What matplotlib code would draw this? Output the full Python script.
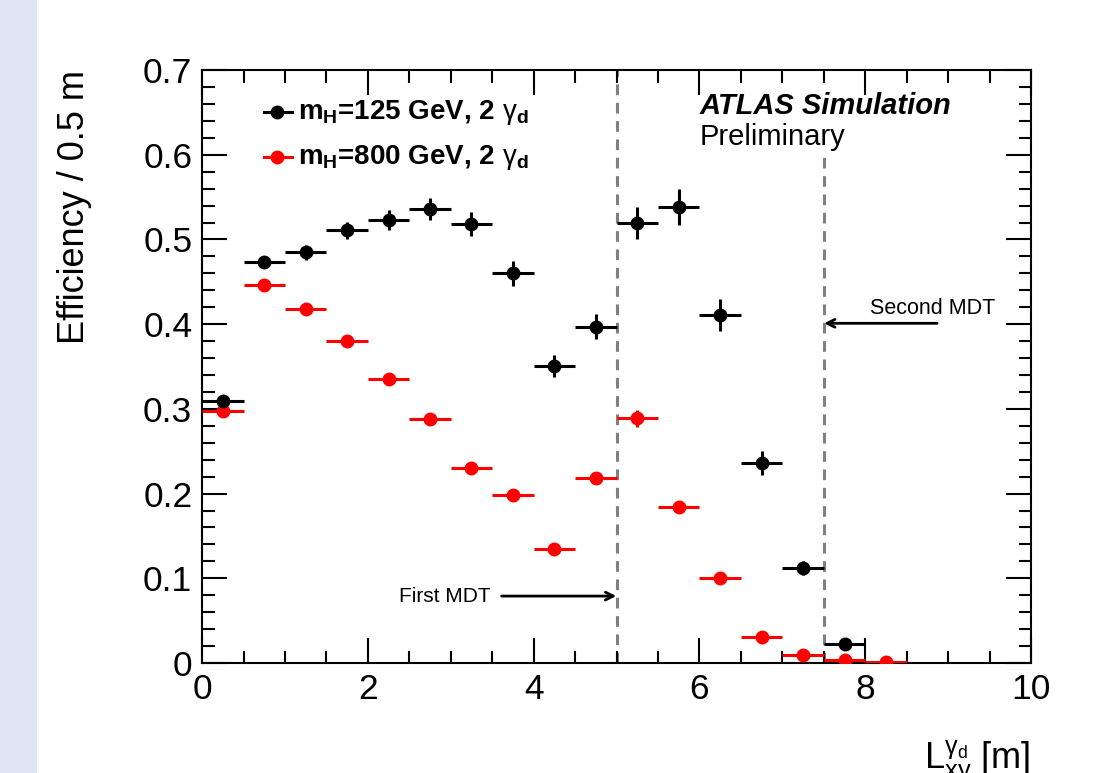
import numpy as np
import matplotlib.pyplot as plt
from matplotlib.patches import Rectangle
from matplotlib.ticker import MultipleLocator, FuncFormatter

plt.rcParams['font.family'] = ['Liberation Sans', 'DejaVu Sans']
plt.rcParams['mathtext.fontset'] = 'custom'
plt.rcParams['mathtext.rm'] = 'Liberation Sans'
plt.rcParams['mathtext.it'] = 'Liberation Sans:italic'
plt.rcParams['mathtext.bf'] = 'Liberation Sans:bold'

# eficiencia por bin de 0.5 m en L_xy
x_125 = [0.25, 0.75, 1.25, 1.75, 2.25, 2.75, 3.25, 3.75, 4.25, 4.75, 5.25, 5.75, 6.25, 6.75, 7.25, 7.75]
eff_125 = [0.309, 0.473, 0.485, 0.511, 0.523, 0.536, 0.518, 0.460, 0.351, 0.397, 0.519, 0.538, 0.411, 0.236, 0.112, 0.022]
err_125 = [0.005, 0.006, 0.009, 0.010, 0.012, 0.013, 0.014, 0.015, 0.013, 0.015, 0.019, 0.021, 0.019, 0.014, 0.008, 0.004]

x_800 = [0.25, 0.75, 1.25, 1.75, 2.25, 2.75, 3.25, 3.75, 4.25, 4.75, 5.25, 5.75, 6.25, 6.75, 7.25, 7.75, 8.25]
eff_800 = [0.297, 0.446, 0.418, 0.380, 0.335, 0.288, 0.230, 0.198, 0.135, 0.218, 0.289, 0.184, 0.100, 0.031, 0.009, 0.003, 0.001]
err_800 = [0.004, 0.004, 0.004, 0.004, 0.005, 0.005, 0.005, 0.005, 0.005, 0.006, 0.010, 0.006, 0.005, 0.004, 0.003, 0.002, 0.001]

ancho_bin = 0.25
lineas_mdt = [5.0, 7.5]

fig = plt.figure(figsize=(11.12, 7.73), dpi=100)
fig.patches.append(Rectangle((0, 0), 37 / 1112, 1, transform=fig.transFigure,
                             facecolor='#dce5f1', edgecolor='none', zorder=0))
ax = fig.add_axes([0.1817, 0.1423, 0.7455, 0.7671])

# lineas punteadas de las camaras MDT
ax.plot([lineas_mdt[0]] * 2, [0, 0.7], color='#808080', lw=2.2, ls=(0, (3.5, 2.5)), zorder=1)
ax.plot([lineas_mdt[1]] * 2, [0, 0.605], color='#808080', lw=2.2, ls=(0, (3.5, 2.5)), zorder=1)

ax.errorbar(x_125, eff_125, xerr=ancho_bin, yerr=err_125, fmt='o', color='black',
            ms=9, elinewidth=2.2, capsize=0, zorder=4)
ax.errorbar(x_800, eff_800, xerr=ancho_bin, yerr=err_800, fmt='o', color='#ff0000',
            ms=9, elinewidth=2.2, capsize=0, zorder=3)

ax.set_xlim(0, 10)
ax.set_ylim(0, 0.7)
ax.xaxis.set_major_locator(MultipleLocator(2))
ax.xaxis.set_minor_locator(MultipleLocator(0.5))
ax.yaxis.set_major_locator(MultipleLocator(0.1))
ax.yaxis.set_minor_locator(MultipleLocator(0.02))
ax.yaxis.set_major_formatter(FuncFormatter(lambda v, p: '0' if abs(v) < 1e-9 else '%.1f' % v))
ax.tick_params(which='both', direction='in', top=True, right=True, width=1.5, labelsize=25.5)
ax.tick_params(which='major', length=18)
ax.tick_params(which='minor', length=9)
ax.tick_params(axis='y', pad=7)
ax.tick_params(axis='x', pad=7)
for s in ax.spines.values():
    s.set_linewidth(1.5)

# leyenda a mano
etiquetas = [r'$\mathbf{m_H}$=125 GeV, 2 $\mathrm{\gamma}_{\mathbf{d}}$',
             r'$\mathbf{m_H}$=800 GeV, 2 $\mathrm{\gamma}_{\mathbf{d}}$']
for yl, col, lab in zip([0.650, 0.597], ['black', '#ff0000'], etiquetas):
    ax.plot([0.75, 1.09], [yl, yl], color=col, lw=2.2)
    ax.plot([0.91], [yl], 'o', color=col, ms=9)
    ax.text(1.16, yl, lab, fontsize=20, fontweight='bold', va='center')

ax.text(6.0, 0.658, 'ATLAS Simulation', fontsize=21, fontweight='bold', style='italic', va='center')
ax.text(6.0, 0.621, 'Preliminary', fontsize=21, va='center')

ax.text(2.38, 0.079, 'First MDT', fontsize=15, va='center')
ax.annotate('', xy=(5.03, 0.079), xytext=(3.58, 0.079),
            arrowprops=dict(arrowstyle='->', color='black', lw=2, mutation_scale=14))
ax.text(8.06, 0.419, 'Second MDT', fontsize=15.5, va='center')
ax.annotate('', xy=(7.47, 0.401), xytext=(8.9, 0.401),
            arrowprops=dict(arrowstyle='->', color='black', lw=2, mutation_scale=14))

fig.text(75 / 1112, 1 - 70 / 773, 'Efficiency / 0.5 m', rotation=90, fontsize=26,
         ha='center', va='top')
fig.text(1030 / 1112, 1 - 768 / 773,
         r'$\mathrm{L}_{\mathrm{xy}}^{\mathrm{\gamma}_{\mathrm{d}}}$ [m]', fontsize=26,
         ha='right', va='baseline')

fig.savefig('out.png', dpi=100)
